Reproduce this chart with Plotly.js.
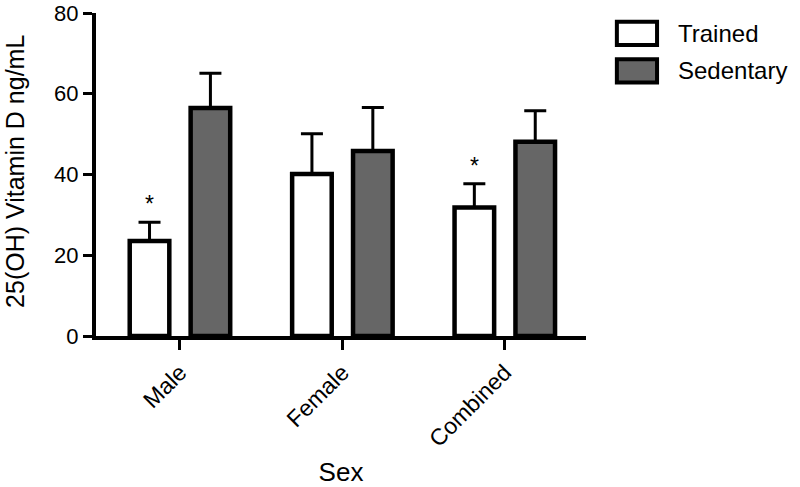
<!DOCTYPE html>
<html>
<head>
<meta charset="utf-8">
<script src="https://cdn.plot.ly/plotly-3.0.1.min.js"></script>
<style>html,body{margin:0;padding:0;background:#fff;}#chart{width:800px;height:487px;}</style>
</head>
<body>
<div id="chart"></div>
<script>
var categories = ["Male", "Female", "Combined"];
var trainedMeans = [23.5, 40.1, 31.8];
var trainedErr = [4.7, 10.0, 5.9];
var sedentaryMeans = [56.5, 45.8, 48.1];
var sedentaryErr = [8.6, 10.8, 7.7];
var significant = [true, false, true];
var seriesNames = ["Trained", "Sedentary"];
var yTicks = [0, 20, 40, 60, 80];
var xTitle = "Sex";
var yTitle = "25(OH) Vitamin D ng/mL";

var FONT = "Liberation Sans, Arial, Helvetica, sans-serif";
var zeros = categories.map(function(){return 0;});

var traces = [
  {
    type: "bar", name: seriesNames[0], x: categories, y: trainedMeans,
    marker: {color: "#ffffff", line: {color: "#000000", width: 4.5}},
    error_y: {type: "data", symmetric: false, array: trainedErr, arrayminus: zeros,
              color: "#000000", thickness: 3, width: 11},
    showlegend: false, hoverinfo: "none"
  },
  {
    type: "bar", name: seriesNames[1], x: categories, y: sedentaryMeans,
    marker: {color: "#666666", line: {color: "#000000", width: 4.5}},
    error_y: {type: "data", symmetric: false, array: sedentaryErr, arrayminus: zeros,
              color: "#000000", thickness: 3, width: 11},
    showlegend: false, hoverinfo: "none"
  }
];

var annotations = [];
categories.forEach(function(c, i){
  if (significant[i]) {
    annotations.push({
      x: c, xref: "x", y: trainedMeans[i] + trainedErr[i], yref: "y",
      xshift: -30.5, yshift: 3, yanchor: "bottom", showarrow: false,
      text: "*", font: {family: FONT, size: 23, color: "#000"}
    });
  }
});
// y axis title
annotations.push({xref: "paper", yref: "paper", x: -0.164, y: 0.51, xanchor: "center",
  yanchor: "middle", textangle: -90, showarrow: false, text: yTitle,
  font: {family: FONT, size: 25, color: "#000"}});
// legend (drawn as paper shapes + text)
var legendRows = [
  {name: seriesNames[0], fill: "#ffffff", y0: 0.901, y1: 0.973, ty: 0.935},
  {name: seriesNames[1], fill: "#666666", y0: 0.785, y1: 0.857, ty: 0.822}
];
var shapes = [];
legendRows.forEach(function(r){
  shapes.push({type: "rect", xref: "paper", yref: "paper", x0: 1.063, x1: 1.145,
    y0: r.y0, y1: r.y1, fillcolor: r.fill, line: {color: "#000", width: 4}});
  annotations.push({xref: "paper", yref: "paper", x: 1.183, y: r.ty, xanchor: "left",
    yanchor: "middle", showarrow: false, text: r.name,
    font: {family: FONT, size: 24, color: "#000"}});
});

var layout = {
  width: 800, height: 487,
  margin: {l: 96, r: 214, t: 13, b: 150.5, pad: 0},
  paper_bgcolor: "#fff", plot_bgcolor: "#fff",
  font: {family: FONT, color: "#000"},
  barmode: "group", bargap: 0.25, bargroupgap: 0.35,
  xaxis: {
    type: "category", range: [-0.517, 2.5], showgrid: false, zeroline: false,
    showline: true, linecolor: "#000", linewidth: 4,
    ticks: "outside", ticklen: 10, tickwidth: 3, tickcolor: "#000",
    tickangle: -45, tickfont: {family: FONT, size: 23, color: "#000"},
    title: {text: xTitle, font: {family: FONT, size: 26, color: "#000"}, standoff: 30},
    automargin: false, fixedrange: true
  },
  yaxis: {
    range: [0, 80], tickvals: yTicks, ticktext: yTicks.map(String),
    showgrid: false, zeroline: false,
    showline: true, linecolor: "#000", linewidth: 4,
    ticks: "outside", ticklen: 9, tickwidth: 3, tickcolor: "#000",
    tickfont: {family: FONT, size: 22, color: "#000"},
    automargin: false, fixedrange: true
  },
  annotations: annotations,
  shapes: shapes,
  showlegend: false
};

Plotly.newPlot("chart", traces, layout, {staticPlot: true, displayModeBar: false});
</script>
</body>
</html>
